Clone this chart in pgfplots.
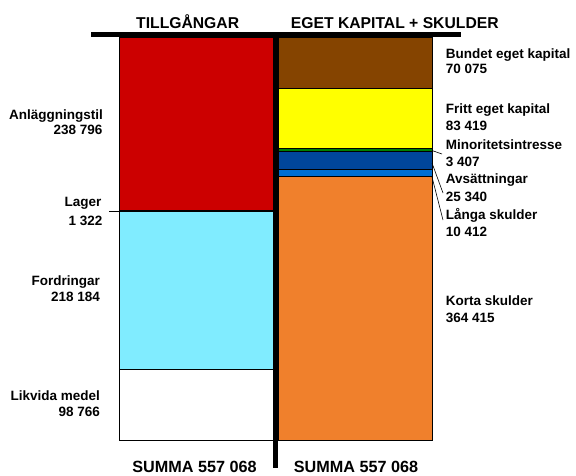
\documentclass[border=0pt]{standalone}
\usepackage{pgfplots}
\pgfplotsset{compat=1.18}
\usepackage{fontspec}
\setmainfont{Liberation Sans}
\definecolor{cRed}{RGB}{204,0,0}
\definecolor{cCyan}{RGB}{128,236,255}
\definecolor{cBrown}{RGB}{133,68,0}
\definecolor{cYellow}{RGB}{255,255,0}
\definecolor{cGreen}{RGB}{0,128,0}
\definecolor{cDBlue}{RGB}{0,70,155}
\definecolor{cBlue}{RGB}{0,110,210}
\definecolor{cOrange}{RGB}{240,128,44}
\newcommand\lab{\fontsize{13.5}{15}\selectfont\bfseries}
\newcommand\hd{\fontsize{15.7}{18}\selectfont\bfseries}
\newcommand\sm{\fontsize{16.2}{18}\selectfont\bfseries}
\pgfplotsset{tax/.style={at={(0pt,34.3pt)},anchor=south west,scale only axis,
  width=576pt,height=403.4pt,xmin=0,xmax=576,ymin=0,ymax=557068,hide axis,
  ybar stacked,every axis plot/.append style={draw=black,line width=0.7pt}}}
\begin{document}
\begin{tikzpicture}
\useasboundingbox (0,0) rectangle (576pt,475pt);
% Tillgangar (bottom to top)
\begin{axis}[tax,bar width=154]
\addplot[fill=white] coordinates {(196.3,98766)};   % Likvida medel
\addplot[fill=cCyan] coordinates {(196.3,218184)};  % Fordringar
\addplot[fill=white] coordinates {(196.3,1322)};    % Lager
\addplot[fill=cRed] coordinates {(196.3,238796)};   % Anlaggningstil
\end{axis}
% Eget kapital + skulder (bottom to top)
\begin{axis}[tax,bar width=153.7]
\addplot[fill=cOrange] coordinates {(355.15,364415)}; % Korta skulder
\addplot[fill=cBlue] coordinates {(355.15,10412)};    % Langa skulder
\addplot[fill=cDBlue] coordinates {(355.15,25340)};   % Avsattningar
\addplot[fill=cGreen] coordinates {(355.15,3407)};    % Minoritetsintresse
\addplot[fill=cYellow] coordinates {(355.15,83419)};  % Fritt eget kapital
\addplot[fill=cBrown] coordinates {(355.15,70075)};   % Bundet eget kapital
\end{axis}
\begin{scope}[shift={(0pt,475pt)},x=1pt,y=-1pt]
\fill[black] (90.7,31.7) rectangle (460.7,36.7);
\fill[black] (272.7,31.7) rectangle (278.3,468.3);
% headings
\node[anchor=base west,inner sep=0pt] at (136,29) {\hd TILLGÅNGAR};
\node[anchor=base west,inner sep=0pt] at (290.7,29) {\hd EGET KAPITAL + SKULDER};
\node[anchor=base,inner sep=0pt] at (194.5,472) {\sm SUMMA 557 068};
\node[anchor=base,inner sep=0pt] at (356,472) {\sm SUMMA 557 068};
% left labels
\node[anchor=base east,inner sep=0pt] at (103,119.3) {\lab Anläggningstil};
\node[anchor=base east,inner sep=0pt] at (102.7,135) {\lab 238 796};
\node[anchor=base east,inner sep=0pt] at (101.7,206.7) {\lab Lager};
\node[anchor=base east,inner sep=0pt] at (102.7,225) {\lab 1 322};
\node[anchor=base east,inner sep=0pt] at (100,285) {\lab Fordringar};
\node[anchor=base east,inner sep=0pt] at (100,301.7) {\lab 218 184};
\node[anchor=base east,inner sep=0pt] at (100,400) {\lab Likvida medel};
\node[anchor=base east,inner sep=0pt] at (100,416.7) {\lab 98 766};
\draw[line width=0.7pt] (109,211) -- (119.3,211);
% right labels
\node[anchor=base west,inner sep=0pt] at (445.7,59) {\lab Bundet eget kapital};
\node[anchor=base west,inner sep=0pt] at (445.7,73.5) {\lab 70 075};
\node[anchor=base west,inner sep=0pt] at (445.7,113.3) {\lab Fritt eget kapital};
\node[anchor=base west,inner sep=0pt] at (445.7,131) {\lab 83 419};
\node[anchor=base west,inner sep=0pt] at (445.7,149.3) {\lab Minoritetsintresse};
\node[anchor=base west,inner sep=0pt] at (445.7,166.7) {\lab 3 407};
\node[anchor=base west,inner sep=0pt] at (445.7,184) {\lab Avsättningar};
\node[anchor=base west,inner sep=0pt] at (445.7,201.7) {\lab 25 340};
\node[anchor=base west,inner sep=0pt] at (445.7,219.3) {\lab Långa skulder};
\node[anchor=base west,inner sep=0pt] at (445.7,236.7) {\lab 10 412};
\node[anchor=base west,inner sep=0pt] at (445.7,305.7) {\lab Korta skulder};
\node[anchor=base west,inner sep=0pt] at (445.7,322.3) {\lab 364 415};
\draw[line width=0.6pt] (432,150.5) -- (442,154);
\draw[line width=0.6pt] (432,163) -- (443,193);
\draw[line width=0.6pt] (432,177) -- (443,220);
\end{scope}
\end{tikzpicture}
\end{document}
